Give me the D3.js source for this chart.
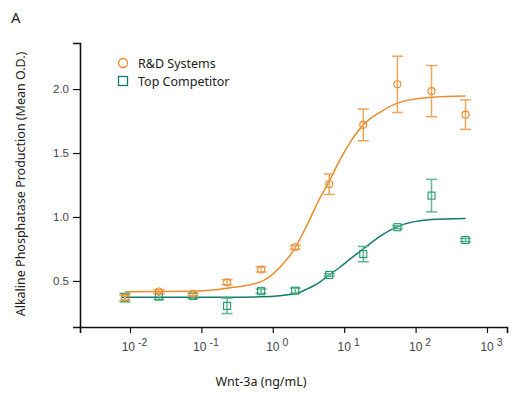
<!DOCTYPE html>
<html>
<head>
<meta charset="utf-8">
<script src="https://cdn.jsdelivr.net/npm/d3@7"></script>
<style>
  body { margin: 0; background: #fff; }
  .tick text { font-family: "Liberation Sans", Arial, sans-serif; fill: #444; }
  .lab { font-family: "Noto Sans", "Open Sans", sans-serif; fill: #222; }
</style>
</head>
<body>
<div id="chart"></div>
<script>
var svgWidth = 528;
var svgHeight = 400;

// Wnt-3a concentrations (3-fold dilutions, ng/mL)
var conc = [0.0085, 0.0254, 0.0762, 0.229, 0.686, 2.06, 6.17, 18.5, 55.6, 167, 500];

var rdMean = [0.37, 0.417, 0.40, 0.49, 0.59, 0.763, 1.256, 1.72, 2.037, 1.984, 1.80];
var rdErr = [0.02, 0.015, 0.015, 0.02, 0.02, 0.015, 0.08, 0.124, 0.22, 0.2, 0.115];

var compMean = [0.37, 0.378, 0.383, 0.305, 0.42, 0.424, 0.547, 0.71, 0.92, 1.167, 0.82];
var compErr = [0.034, 0.023, 0.02, 0.06, 0.017, 0.02, 0.01, 0.06, 0.012, 0.127, 0.013];

// fitted curves
var rdCurveX = [0.0085, 0.0762, 0.229, 0.686, 1.3, 2.06, 3.1, 4.4, 6.17, 8.6, 12, 18.5, 32, 55.6, 167, 500];
var rdCurveY = [0.415, 0.42, 0.443, 0.495, 0.615, 0.76, 0.95, 1.13, 1.28, 1.44, 1.58, 1.72, 1.82, 1.89, 1.935, 1.945];

var compCurveX = [0.0075, 0.229, 0.686, 2.06, 3.1, 4.4, 6.17, 8.6, 12, 18.5, 32, 55.6, 167, 500];
var compCurveY = [0.372, 0.372, 0.376, 0.40, 0.44, 0.485, 0.547, 0.605, 0.67, 0.75, 0.85, 0.925, 0.98, 0.988];

var yTicks = [0.5, 1.0, 1.5, 2.0];
var xTicks = [0.01, 0.1, 1, 10, 100, 1000];
var xExp = ["-2", "-1", "0", "1", "2", "3"];

var seriesNames = ["R&D Systems", "Top Competitor"];

var orange = "#ec8a2c";
var orangeLight = "#f0a65c";
var teal = "#137a70";
var green = "#1f9a68";
var greenLight = "#5dbb8f";

var svg = d3.select("#chart")
  .append("svg")
  .attr("width", svgWidth)
  .attr("height", svgHeight);

var xScale = d3.scaleLog()
  .domain([Math.pow(10, -2.7), Math.pow(10, 3.28)])
  .range([80, 507]);

var yScale = d3.scaleLinear()
  .domain([0.14, 2.36])
  .range([327, 43]);

// axes
var leftAxis = d3.axisLeft(yScale)
  .tickValues(yTicks)
  .tickFormat(d3.format(".1f"))
  .tickSizeOuter(0)
  .tickSize(7)
  .tickPadding(4);

var bottomAxis = d3.axisBottom(xScale)
  .tickValues(xTicks)
  .tickFormat("")
  .tickSizeOuter(0)
  .tickSize(6);

var gy = svg.append("g")
  .attr("transform", "translate(80,0)")
  .call(leftAxis);
gy.selectAll("text").style("font-size", "11.5px");

var gx = svg.append("g")
  .attr("transform", "translate(0,327)")
  .call(bottomAxis);

[gx, gy].forEach(function(g) {
  g.select(".domain").attr("stroke", "#111").attr("stroke-width", 1.6);
  g.selectAll(".tick line").attr("stroke", "#111").attr("stroke-width", 1.2);
});

gx.selectAll(".tick").each(function(d, i) {
  var t = d3.select(this).append("text")
    .attr("x", 4)
    .attr("y", 24)
    .attr("text-anchor", "middle")
    .style("font-size", "12px");
  t.append("tspan").text("10");
  t.append("tspan")
    .attr("dx", 3)
    .attr("dy", -5)
    .style("font-size", "10.5px")
    .text(xExp[i]);
});

// curves
var line = d3.line()
  .x(function(d) { return xScale(d[0]); })
  .y(function(d) { return yScale(d[1]); })
  .curve(d3.curveMonotoneX);

svg.append("path")
  .datum(d3.zip(compCurveX, compCurveY))
  .attr("d", line)
  .attr("fill", "none")
  .attr("stroke", teal)
  .attr("stroke-width", 1.5);

svg.append("path")
  .datum(d3.zip(rdCurveX, rdCurveY))
  .attr("d", line)
  .attr("fill", "none")
  .attr("stroke", orange)
  .attr("stroke-width", 1.5);

// error bars + markers
function drawSeries(means, errs, barColor, markColor, shape) {
  var data = conc.map(function(c, i) { return { c: c, m: means[i], e: errs[i] }; });
  var g = svg.append("g");
  var bars = g.selectAll(".eb").data(data).enter().append("g")
    .attr("stroke", barColor)
    .attr("stroke-width", 1.5);
  bars.append("line")
    .attr("x1", function(d) { return xScale(d.c); })
    .attr("x2", function(d) { return xScale(d.c); })
    .attr("y1", function(d) { return yScale(d.m - d.e); })
    .attr("y2", function(d) { return yScale(d.m + d.e); });
  [-1, 1].forEach(function(s) {
    bars.append("line")
      .attr("x1", function(d) { return xScale(d.c) - 5.5; })
      .attr("x2", function(d) { return xScale(d.c) + 5.5; })
      .attr("y1", function(d) { return yScale(d.m + s * d.e); })
      .attr("y2", function(d) { return yScale(d.m + s * d.e); });
  });
  if (shape === "circle") {
    g.selectAll(".mk").data(data).enter().append("circle")
      .attr("cx", function(d) { return xScale(d.c); })
      .attr("cy", function(d) { return yScale(d.m); })
      .attr("r", 3.5)
      .attr("fill", "none")
      .attr("stroke", markColor)
      .attr("stroke-width", 1.1);
  } else {
    g.selectAll(".mk").data(data).enter().append("rect")
      .attr("x", function(d) { return xScale(d.c) - 3.5; })
      .attr("y", function(d) { return yScale(d.m) - 3.5; })
      .attr("width", 7)
      .attr("height", 7)
      .attr("fill", "none")
      .attr("stroke", markColor)
      .attr("stroke-width", 1.1);
  }
}

drawSeries(compMean, compErr, greenLight, green, "square");
drawSeries(rdMean, rdErr, orangeLight, orange, "circle");

// legend
svg.append("circle")
  .attr("cx", 123).attr("cy", 63).attr("r", 4.5)
  .attr("fill", "none").attr("stroke", orange).attr("stroke-width", 1.3);
svg.append("rect")
  .attr("x", 118.5).attr("y", 76.5).attr("width", 9).attr("height", 9)
  .attr("fill", "none").attr("stroke", teal).attr("stroke-width", 1.3);
svg.selectAll(".leg").data(seriesNames).enter().append("text")
  .attr("class", "lab")
  .attr("x", 138)
  .attr("y", function(d, i) { return 67.5 + i * 18; })
  .style("font-size", "12.5px")
  .text(function(d) { return d; });

// titles
svg.append("text")
  .attr("class", "lab")
  .attr("x", 11).attr("y", 23)
  .style("font-size", "15px")
  .text("A");

svg.append("text")
  .attr("class", "lab")
  .attr("transform", "translate(25,184) rotate(-90)")
  .attr("text-anchor", "middle")
  .style("font-size", "12.5px")
  .text("Alkaline Phosphatase Production (Mean O.D.)");

svg.append("text")
  .attr("class", "lab")
  .attr("x", 261).attr("y", 386)
  .attr("text-anchor", "middle")
  .style("font-size", "12.5px")
  .text("Wnt-3a (ng/mL)");
</script>
</body>
</html>
